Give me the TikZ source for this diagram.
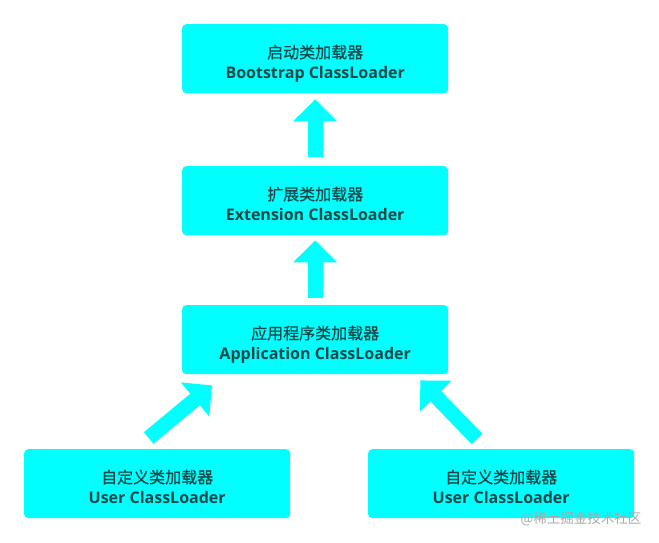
\documentclass[tikz,border=0pt]{standalone}
\usepackage{fontspec}
\setmainfont{Open Sans}
\newfontfamily\cjk[FakeBold=0.6]{Noto Sans CJK SC}
\newfontfamily\cjkwm{Noto Sans CJK SC}
\usetikzlibrary{arrows.meta}
\definecolor{boxcyan}{HTML}{00FFFF}
\definecolor{txtcol}{HTML}{154848}
\definecolor{wmcol}{HTML}{A8A8A8}
\newcommand\boxtext[2]{\raisebox{-5.5pt}[\height][\depth]{\fontsize{16}{20}\selectfont\begin{tabular}{@{}c@{}}{\cjk\fontsize{16}{20}\selectfont #1}\\ \bfseries #2\end{tabular}}}
\begin{document}
\begin{tikzpicture}[x=1pt,y=-1pt,
  box/.style={fill=boxcyan, rounded corners=4pt, minimum width=266pt, minimum height=69pt,
    inner sep=0pt, text=txtcol, align=center, anchor=north west},
  bigarrow/.style={draw=boxcyan, line width=15pt, -{Triangle[width=43pt,length=22pt]}}]
\useasboundingbox (0,0) rectangle (659,543);
\node[box] (b1) at (182,24) {\boxtext{启动类加载器}{Bootstrap ClassLoader}};
\node[box] (b2) at (182,166) {\boxtext{扩展类加载器}{Extension ClassLoader}};
\node[box] (b3) at (182,305) {\boxtext{应用程序类加载器}{Application ClassLoader}};
\node[box] (b4) at (24,449) {\boxtext{自定义类加载器}{User ClassLoader}};
\node[box] (b5) at (368,449) {\boxtext{自定义类加载器}{User ClassLoader}};
\draw[bigarrow] ([yshift=9pt]b2.north) -- ([yshift=-6pt]b1.south);
\draw[bigarrow] ([yshift=7pt]b3.north) -- ([yshift=-5pt]b2.south);
\draw[bigarrow] ([shift={(-8.5pt,11pt)}]b4.north) -- ([shift={(30pt,-11pt)}]b3.south west);
\draw[bigarrow] ([shift={(-24pt,10pt)}]b5.north) -- ([shift={(-28pt,-6pt)}]b3.south east);
\node[text=wmcol, font=\cjkwm\fontsize{13.5}{14}\selectfont, inner sep=0pt] (wm) at (581,519) {@稀土掘金技术社区};
\end{tikzpicture}
\end{document}
